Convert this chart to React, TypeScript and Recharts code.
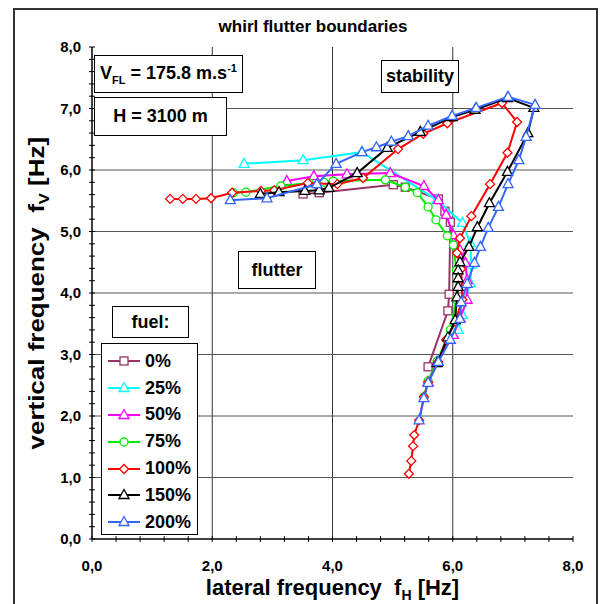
import React from 'react';
import { ScatterChart, Scatter, XAxis, YAxis, ReferenceLine } from 'recharts';

// lateral frequency fH [Hz], vertical frequency fV [Hz] per fuel level
const fuel0 = [
  [3.51, 5.61], [3.78, 5.63], [5.01, 5.76], [5.21, 5.72], [5.76, 5.53],
  [5.87, 5.33], [5.96, 5.15], [5.94, 3.98], [5.92, 3.71], [5.59, 2.8],
];
const fuel25 = [
  [2.53, 6.1], [3.51, 6.16], [4.49, 6.29], [5.74, 5.51], [6.16, 5.14],
  [6.29, 4.81], [6.31, 4.46], [6.29, 4.16], [6.22, 3.89], [6.16, 3.64], [6.09, 3.4],
];
const fuel50 = [
  [3.24, 5.82], [3.69, 5.9], [4.24, 5.93], [4.96, 5.95], [5.52, 5.74],
  [5.76, 5.51], [5.89, 5.27], [6.01, 4.94], [6.12, 4.7], [6.21, 4.49],
  [6.24, 4.21], [6.24, 3.89], [6.12, 3.59], [6.01, 3.32], [5.74, 2.88], [5.59, 2.55],
];
const fuel75 = [
  [2.35, 5.63], [2.56, 5.64], [3.14, 5.74], [3.61, 5.79], [3.86, 5.8],
  [4.01, 5.82], [4.88, 5.84], [5.21, 5.72], [5.41, 5.63], [5.59, 5.4],
  [5.72, 5.19], [5.91, 4.93], [6.01, 4.78], [6.06, 4.37], [6.06, 3.89],
  [5.96, 3.4], [5.74, 2.89], [5.59, 2.57], [5.52, 2.31],
];
const fuel100 = [
  [1.3, 5.53], [1.51, 5.53], [1.73, 5.53], [1.98, 5.54], [2.33, 5.63],
  [2.81, 5.66], [3.03, 5.67], [3.59, 5.79], [4.08, 5.77], [4.51, 5.87],
  [5.09, 6.34], [5.51, 6.59], [5.91, 6.76], [6.82, 7.09], [7.07, 6.78],
  [6.91, 6.28], [6.62, 5.77], [6.31, 5.25], [6.12, 4.89], [6.07, 4.65],
  [6.14, 4.39], [6.16, 3.89], [6.04, 3.53], [5.89, 3.24], [5.76, 2.88],
  [5.59, 2.55], [5.52, 2.31], [5.44, 1.93], [5.36, 1.69], [5.34, 1.51],
  [5.31, 1.27], [5.27, 1.06],
];
const fuel150 = [
  [2.8, 5.61], [3.11, 5.64], [3.54, 5.66], [3.78, 5.67], [3.94, 5.71],
  [4.41, 5.95], [4.91, 6.36], [5.46, 6.62], [5.99, 6.86], [6.37, 6.98],
  [6.91, 7.17], [7.35, 7.01], [7.25, 6.6], [6.91, 5.97], [6.61, 5.46],
  [6.41, 5.07], [6.27, 4.75], [6.12, 4.5], [6.09, 4.37], [6.09, 4.24],
  [6.09, 4.1], [6.07, 3.93], [6.04, 3.56], [5.92, 3.28], [5.74, 2.86],
];
const fuel200 = [
  [2.3, 5.51], [2.91, 5.54], [3.74, 5.77], [4.06, 6.1], [4.49, 6.29],
  [4.73, 6.37], [4.98, 6.46], [5.26, 6.55], [5.59, 6.72], [5.99, 6.88],
  [6.39, 7.01], [6.92, 7.19], [7.37, 7.06], [7.22, 6.54], [7.1, 6.16],
  [6.92, 5.77], [6.76, 5.4], [6.59, 5.06], [6.46, 4.75], [6.36, 4.49],
  [6.24, 4.15], [6.14, 3.85], [6.12, 3.58], [5.96, 3.24], [5.76, 2.88],
  [5.59, 2.54], [5.52, 2.29], [5.44, 1.93],
];

const seriesNames = ['0%', '25%', '50%', '75%', '100%', '150%', '200%'];
const seriesData = [fuel0, fuel25, fuel50, fuel75, fuel100, fuel150, fuel200];
const seriesColors = ['#993366', '#00FFFF', '#FF00FF', '#00EE00', '#FF0000', '#000000', '#3366FF'];
const seriesMarkers = ['square', 'triangle', 'triangle', 'circle', 'diamond', 'triangle', 'triangle'];

const xMajorTicks = [0, 2, 4, 6, 8];
const yMajorTicks = [0, 1, 2, 3, 4, 5, 6, 7, 8];
const xGridLines = [2, 4, 6];
const yGridLines = [1, 2, 3, 4, 5, 6, 7];

// minor ticks: 0.4 Hz on x, 0.2 Hz on y
const xTicks: number[] = [];
for (let i = 0; i <= 20; i++) xTicks.push(Math.round(i * 4) / 10);
const yTicks: number[] = [];
for (let i = 0; i <= 40; i++) yTicks.push(Math.round(i * 2) / 10);

const FONT = '"Liberation Sans", Arial, sans-serif';
const fmt = (v: number) => v.toFixed(1).replace('.', ',');

const Marker = ({ kind, color, cx, cy }: any) => {
  const common = { fill: '#ffffff', stroke: color, strokeWidth: 1.3 };
  if (kind === 'square') return <rect x={cx - 4} y={cy - 4} width={8} height={8} {...common} />;
  if (kind === 'circle') return <circle cx={cx} cy={cy} r={4} {...common} />;
  if (kind === 'diamond')
    return <polygon points={`${cx},${cy - 4.5} ${cx + 4.5},${cy} ${cx},${cy + 4.5} ${cx - 4.5},${cy}`} {...common} />;
  return <polygon points={`${cx},${cy - 5.5} ${cx + 5},${cy + 3.5} ${cx - 5},${cy + 3.5}`} {...common} />;
};

const XTick = ({ x, y, payload }: any) => {
  const major = xMajorTicks.includes(payload.value);
  return (
    <g>
      <line x1={x} x2={x} y1={y - 3} y2={y + 3} stroke="#000" strokeWidth={1} />
      {major && (
        <text x={x} y={y + 32} textAnchor="middle" fontFamily={FONT} fontWeight="bold" fontSize={15} fill="#000">
          {fmt(payload.value)}
        </text>
      )}
    </g>
  );
};

const YTick = ({ x, y, payload }: any) => {
  const major = yMajorTicks.includes(payload.value);
  return (
    <g>
      <line x1={x - 3} x2={x + 3} y1={y} y2={y} stroke="#000" strokeWidth={1} />
      {major && (
        <text x={x - 11} y={y + 5} textAnchor="end" fontFamily={FONT} fontWeight="bold" fontSize={15} fill="#000">
          {fmt(payload.value)}
        </text>
      )}
    </g>
  );
};

const boxStyle: React.CSSProperties = {
  position: 'absolute',
  border: '1px solid #000',
  background: '#fff',
  fontFamily: FONT,
  fontWeight: 'bold',
  fontSize: 18,
  color: '#000',
  display: 'flex',
  alignItems: 'center',
  justifyContent: 'center',
  boxSizing: 'border-box',
};

export default function App() {
  return (
    <div style={{ position: 'absolute', left: 0, top: 0, width: 608, height: 604, background: '#fff', overflow: 'hidden' }}>
      {/* outer frame */}
      <div style={{ position: 'absolute', left: 13, top: 8, width: 585, height: 610, border: '2px solid #333', boxSizing: 'border-box' }} />

      <ScatterChart width={608} height={604} margin={{ top: 47, right: 35, left: 32, bottom: 35 }}>
        <XAxis
          type="number"
          dataKey="x"
          domain={[0, 8]}
          ticks={xTicks}
          interval={0}
          tick={<XTick />}
          tickLine={false}
          tickSize={0}
          tickMargin={0}
          height={30}
          axisLine={{ stroke: '#000', strokeWidth: 1.5 }}
          allowDataOverflow
        />
        <YAxis
          type="number"
          dataKey="y"
          domain={[0, 8]}
          ticks={yTicks}
          interval={0}
          tick={<YTick />}
          tickLine={false}
          tickSize={0}
          tickMargin={0}
          width={60}
          axisLine={{ stroke: '#000', strokeWidth: 1.5 }}
          allowDataOverflow
        />
        {xGridLines.map((v) => (
          <ReferenceLine key={`gx${v}`} x={v} stroke="#333" strokeWidth={1} />
        ))}
        {yGridLines.map((v) => (
          <ReferenceLine key={`gy${v}`} y={v} stroke="#555" strokeWidth={1} />
        ))}
        {seriesData.map((pts, i) => (
          <Scatter
            key={seriesNames[i]}
            name={seriesNames[i]}
            data={pts.map(([x, y]) => ({ x, y }))}
            line={{ stroke: seriesColors[i], strokeWidth: 2 }}
            lineType="joint"
            shape={(p: any) => <Marker kind={seriesMarkers[i]} color={seriesColors[i]} cx={p.cx} cy={p.cy} />}
            isAnimationActive={false}
          />
        ))}
      </ScatterChart>

      {/* title */}
      <div style={{ position: 'absolute', left: 0, width: 626, top: 17, textAlign: 'center', fontFamily: FONT, fontWeight: 'bold', fontSize: 17 }}>
        whirl flutter boundaries
      </div>

      {/* axis titles */}
      <div style={{ position: 'absolute', left: 92, width: 481, top: 576, lineHeight: '24px', textAlign: 'center', fontFamily: FONT, fontWeight: 'bold', fontSize: 22 }}>
        lateral frequency&nbsp;&nbsp;f<sub style={{ fontSize: 14, lineHeight: 0 }}>H</sub> [Hz]
      </div>
      <div
        style={{
          position: 'absolute', left: 38 - 200, top: 293 - 14, width: 400, textAlign: 'center',
          transform: 'rotate(-90deg) scaleX(1.18)', fontFamily: FONT, fontWeight: 'bold', fontSize: 22,
        }}
      >
        vertical frequency&nbsp;&nbsp;f<sub style={{ fontSize: 14 }}>V</sub> [Hz]
      </div>

      {/* annotation boxes */}
      <div style={{ ...boxStyle, left: 94, top: 55, width: 149, height: 38 }}>
        <span>
          V<sub style={{ fontSize: 11 }}>FL</sub> = 175.8 m.s<sup style={{ fontSize: 11 }}>-1</sup>
        </span>
      </div>
      <div style={{ ...boxStyle, left: 94, top: 97, width: 133, height: 39 }}>H = 3100 m</div>
      <div style={{ ...boxStyle, left: 381, top: 60, width: 78, height: 33 }}>stability</div>
      <div style={{ ...boxStyle, left: 238, top: 251, width: 78, height: 38 }}>flutter</div>
      <div style={{ ...boxStyle, left: 112, top: 306, width: 77, height: 32 }}>fuel:</div>

      {/* legend */}
      <div style={{ ...boxStyle, left: 101, top: 343, width: 97, height: 192, display: 'block', padding: '4px 0 0 0' }}>
        {seriesNames.map((n, i) => (
          <div key={n} style={{ display: 'flex', alignItems: 'center', height: 26.8 }}>
            <svg width={38} height={14} style={{ marginLeft: 5 }}>
              <line x1={1} x2={33} y1={7} y2={7} stroke={seriesColors[i]} strokeWidth={2} />
              <Marker kind={seriesMarkers[i]} color={seriesColors[i]} cx={17} cy={7} />
            </svg>
            <span>{n}</span>
          </div>
        ))}
      </div>
    </div>
  );
}
